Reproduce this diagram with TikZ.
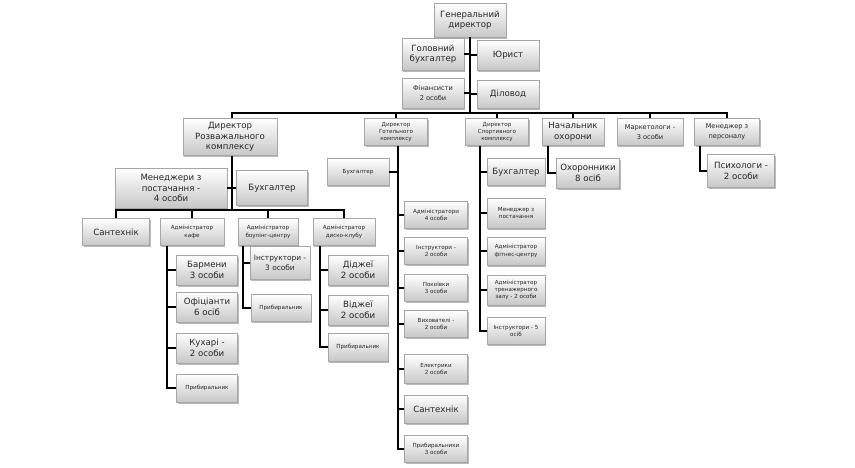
\documentclass[tikz,border=0pt]{standalone}
\usepackage{fontspec}
\setmainfont{DejaVu Sans}
\usetikzlibrary{shadows}

\tikzset{
  unit/.style={draw=black!35, top color=white, bottom color=black!22,
    drop shadow={shadow xshift=1pt, shadow yshift=-1.6pt, fill=black!55},
    align=center, inner sep=1pt, text=black!85},
  big/.style={font=\fontsize{8.6}{10.5}\selectfont},
  mid/.style={font=\fontsize{6.6}{9.5}\selectfont},
  small/.style={font=\fontsize{5.6}{7.2}\selectfont},
  wh/.style 2 args={minimum width=#1, minimum height=#2},
  link/.style={line width=1.4pt, black},
}

\begin{document}
\begin{tikzpicture}[x=1pt,y=-1pt]
\useasboundingbox (0,0) rectangle (855,467);

% top level
\node[unit,big,wh={72pt}{34pt}] (gd) at (470,20) {Генеральний\\директор};
\node[unit,big,wh={62pt}{32pt}] (glb) at (433,54) {Головний\\бухгалтер};
\node[unit,big,wh={62pt}{30pt}] (jur) at (508,55) {Юрист};
\node[unit,mid,wh={62pt}{30pt}] (fin) at (433,93) {Фінансисти\\2 особи};
\node[unit,big,wh={62pt}{28pt}] (dil) at (508,94) {Діловод};
\coordinate (bus) at (470,113);

% directors
\node[unit,big,wh={94pt}{37pt}] (dirR) at (230,137) {Директор\\Розважального\\комплексу};
\node[unit,small,wh={63pt}{27pt}] (dirH) at (396,132) {Директор\\Готельного\\комплексу};
\node[unit,small,wh={63pt}{27pt}] (dirS) at (497,132) {Директор\\Спортивного\\комплексу};
\node[unit,big,wh={62pt}{27pt}] (chief) at (573,132) {Начальник\\охорони};
\node[unit,mid,wh={66pt}{27pt}] (mark) at (650,132) {Маркетологи -\\3 особи};
\node[unit,mid,wh={65pt}{27pt}] (mper) at (727,132) {Менеджер з\\персоналу};

% entertainment complex
\node[unit,big,wh={112pt}{40pt}] (mpost) at (171,188) {Менеджери з\\постачання -\\4 особи};
\node[unit,big,wh={71pt}{35pt}] (buhR) at (272,188) {Бухгалтер};
\coordinate (busR) at (232,210);
\node[unit,big,wh={67pt}{27pt}] (santR) at (116,232) {Сантехнік};
\node[unit,small,wh={64pt}{27pt}] (kafe) at (192,232) {Адміністратор\\кафе};
\node[unit,small,wh={60pt}{27pt}] (bowl) at (268,232) {Адміністратор\\боулінг-центру};
\node[unit,small,wh={62pt}{27pt}] (disco) at (344,232) {Адміністратор\\диско-клубу};

\node[unit,big,wh={61pt}{30pt}] (barm) at (207,270) {Бармени\\3 особи};
\node[unit,big,wh={61pt}{30pt}] (ofic) at (207,307) {Офіціанти\\6 осіб};
\node[unit,big,wh={61pt}{30pt}] (kuh) at (207,348) {Кухарі -\\2 особи};
\node[unit,small,wh={61pt}{28pt}] (prbA) at (207,388) {Прибиральник};

\node[unit,font=\fontsize{7.4}{10}\selectfont,wh={60pt}{33pt}] (instr) at (280,263) {Інструктори -\\3 особи};
\node[unit,small,wh={60pt}{27pt}] (prbB) at (281,308) {Прибиральник};

\node[unit,big,wh={60pt}{30pt}] (dj) at (358,270) {Діджеї\\2 особи};
\node[unit,big,wh={60pt}{30pt}] (vj) at (358,310) {Віджеї\\2 особи};
\node[unit,small,wh={60pt}{28pt}] (prbC) at (358,347) {Прибиральник};

% hotel complex
\node[unit,small,wh={62pt}{27pt}] (buhH) at (358,172) {Бухгалтер};
\node[unit,small,wh={63pt}{27pt}] (adm) at (436,215) {Адміністратори\\4 особи};
\node[unit,small,wh={63pt}{27pt}] (instrH) at (436,251) {Інструктори -\\2 особи};
\node[unit,small,wh={63pt}{27pt}] (pok) at (436,288) {Покоївки\\3 особи};
\node[unit,small,wh={63pt}{27pt}] (vykh) at (436,324) {Вихователі -\\2 особи};
\node[unit,small,wh={63pt}{29pt}] (el) at (436,369) {Електрики\\2 особи};
\node[unit,big,wh={63pt}{28pt}] (santH) at (436,409) {Сантехнік};
\node[unit,small,wh={63pt}{27pt}] (prbH) at (436,449) {Прибиральники\\3 особи};

% sport complex
\node[unit,big,wh={58pt}{27pt}] (buhS) at (516,172) {Бухгалтер};
\node[unit,small,wh={58pt}{30pt}] (mpostS) at (516,213) {Менеджер з\\постачання};
\node[unit,small,wh={58pt}{28pt}] (fit) at (516,251) {Адміністратор\\фітнес-центру};
\node[unit,small,wh={58pt}{30pt}] (trn) at (516,290) {Адміністратор\\тренажерного\\залу - 2 особи};
\node[unit,small,wh={58pt}{27pt}] (instrS) at (516,331) {Інструктори - 5\\осіб};

% guards, staff
\node[unit,big,wh={63pt}{30pt}] (ohr) at (588,173) {Охоронники\\8 осіб};
\node[unit,big,wh={67pt}{33pt}] (psy) at (741,171) {Психологи -\\2 особи};

% connectors
\draw[link] (gd) -- (bus);
\draw[link] (glb.east -| bus) -- (glb.east);
\draw[link] (jur.west -| bus) -- (jur.west);
\draw[link] (fin.east -| bus) -- (fin.east);
\draw[link] (dil.west -| bus) -- (dil.west);
\draw[link] ([xshift=2pt]dirR.north) -- ([xshift=2pt]dirR.north |- bus) -- (mper.north |- bus) -- (mper.north);
\foreach \n in {dirH,dirS,chief,mark}
  \draw[link] (\n.north) -- (\n.north |- bus);

\draw[link] ([xshift=2pt]dirR.south) -- (busR);
\draw[link] (mpost) -- (buhR);
\draw[link] (santR.north) -- (santR.north |- busR) -- (disco.north |- busR) -- (disco.north);
\foreach \n in {kafe,bowl}
  \draw[link] (\n.north) -- (\n.north |- busR);

\draw[link] ([xshift=-25pt]kafe.south) |- (prbA.west);
\foreach \n in {barm,ofic,kuh}
  \draw[link] ([xshift=-25pt]kafe.south |- \n.west) -- (\n.west);
\draw[link] ([xshift=-25pt]bowl.south) |- (prbB.west);
\draw[link] ([xshift=-25pt]bowl.south |- instr.west) -- (instr.west);
\draw[link] ([xshift=-24pt]disco.south) |- (prbC.west);
\foreach \n in {dj,vj}
  \draw[link] ([xshift=-24pt]disco.south |- \n.west) -- (\n.west);

\draw[link] ([xshift=2pt]dirH.south) |- (prbH.west);
\draw[link] (buhH.east) -- ([xshift=2pt]dirH.south |- buhH.east);
\foreach \n in {adm,instrH,pok,vykh,el,santH}
  \draw[link] ([xshift=2pt]dirH.south |- \n.west) -- (\n.west);

\draw[link] ([xshift=-17pt]dirS.south) |- (instrS.west);
\foreach \n in {buhS,mpostS,fit,trn}
  \draw[link] ([xshift=-17pt]dirS.south |- \n.west) -- (\n.west);

\draw[link] ([xshift=-25pt]chief.south) |- (ohr.west);
\draw[link] ([xshift=-27pt]mper.south) |- (psy.west);
\end{tikzpicture}
\end{document}
